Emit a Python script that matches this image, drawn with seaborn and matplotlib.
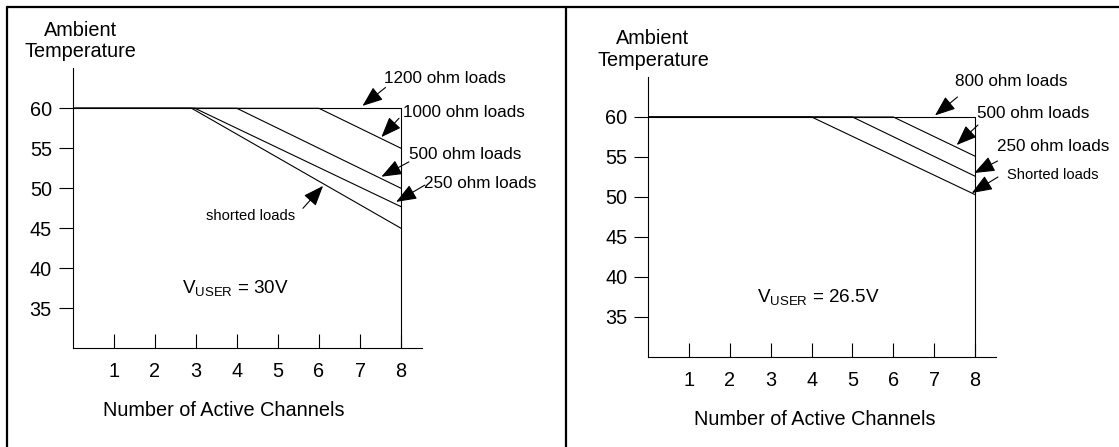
import matplotlib
matplotlib.use("Agg")
import matplotlib.pyplot as plt
from matplotlib.lines import Line2D
import seaborn as sns
import pandas as pd

# ---------------- data ----------------
channel_ticks = [1, 2, 3, 4, 5, 6, 7, 8]
temp_ticks = [35, 40, 45, 50, 55, 60]
max_channels = 8
max_temp = 60
temp_floor = 30

# Left panel: V_USER = 30V
left_loads = ["1200 ohm loads", "1000 ohm loads", "500 ohm loads", "250 ohm loads", "shorted loads"]
left_knee = [8, 6, 4, 2.98, 2.9]        # channels where derating starts
left_end = [60, 55, 50, 47.7, 45]        # temperature at 8 channels

# Right panel: V_USER = 26.5V
right_loads = ["800 ohm loads", "500 ohm loads", "250 ohm loads", "Shorted loads"]
right_knee = [8, 6, 5, 4]
right_end = [60, 55.1, 52.6, 50.3]

# label positions (text x, y) and arrows (tail, head)
left_label_pos = [(7.58, 63.75), (8.04, 59.45), (8.19, 54.25), (8.56, 50.6), (4.34, 46.5)]
left_arrow_tail = [(7.62, 62.6), (7.95, 58.75), (8.19, 53.3), (8.58, 50.4), (5.61, 47.5)]
left_arrow_head = [(7.06, 60.3), (7.52, 56.4), (7.52, 51.45), (7.88, 48.3), (6.1, 50.3)]

right_label_pos = [(7.52, 64.4), (8.04, 60.5), (8.53, 56.3), (8.79, 52.75)]
right_arrow_tail = [(7.57, 62.5), (8.07, 59.0), (8.55, 54.5), (8.56, 52.5)]
right_arrow_head = [(7.02, 60.2), (7.55, 56.5), (7.98, 53.0), (7.92, 50.5)]

# ---------------- style ----------------
sns.set_theme(style="white")
plt.rcParams["font.family"] = ["Liberation Sans", "DejaVu Sans"]
plt.rcParams["mathtext.fontset"] = "custom"
plt.rcParams["mathtext.rm"] = "Liberation Sans"
plt.rcParams["mathtext.it"] = "Liberation Sans"

W, H = 1119, 447
fig = plt.figure(figsize=(W / 100, H / 100), dpi=100)
fig.patch.set_facecolor("white")

TICK_FS = 14.3
LABEL_FS = 14.3
VTEXT_FS = 13.6
LOAD_FS = 12.3
SMALL_FS = 10.6
LW = 0.8


def make_df(loads, knees, ends):
    rows = []
    for name, k, e in zip(loads, knees, ends):
        rows.append({"load": name, "channels": 0, "temp": max_temp})
        rows.append({"load": name, "channels": k, "temp": max_temp})
        rows.append({"load": name, "channels": max_channels, "temp": e})
    return pd.DataFrame(rows)


def panel(rect, loads, knees, ends, label_pos, tails, heads, vtext, small_idx,
          amb_xy, nac_xy):
    ax = fig.add_axes(rect)
    df = make_df(loads, knees, ends)
    sns.lineplot(data=df, x="channels", y="temp", units="load", estimator=None,
                 sort=False, color="black", linewidth=LW, ax=ax, legend=False)
    # right boundary at max channels
    ax.plot([max_channels, max_channels], [temp_floor, max_temp], color="black", lw=LW)
    ax.set_xlim(0, 8.5)
    ax.set_ylim(temp_floor, 65)
    ax.set_xticks(channel_ticks)
    ax.set_yticks(temp_ticks)
    ax.tick_params(axis="x", direction="in", length=10, width=LW, pad=10,
                   labelsize=TICK_FS, colors="black", bottom=True)
    ax.tick_params(axis="y", direction="out", length=10, width=LW, pad=5,
                   labelsize=TICK_FS, colors="black", left=True)
    for s in ["top", "right"]:
        ax.spines[s].set_visible(False)
    for s in ["left", "bottom"]:
        ax.spines[s].set_linewidth(LW)
        ax.spines[s].set_color("black")
    ax.set_xlabel("")
    ax.set_ylabel("")
    ax.patch.set_alpha(0)

    for i, (name, (tx, ty), tail, head) in enumerate(zip(loads, label_pos, tails, heads)):
        fs = SMALL_FS if i == small_idx else LOAD_FS
        ha = "center" if (name == "shorted loads") else "left"
        ax.text(tx, ty, name, fontsize=fs, ha=ha, va="center", color="black", clip_on=False)
        ax.annotate("", xy=head, xytext=tail, annotation_clip=False,
                    arrowprops=dict(arrowstyle="-|>,head_length=0.9,head_width=0.35",
                                    color="black", lw=LW, shrinkA=0, shrinkB=0,
                                    mutation_scale=14))
    ax.text(2.66, 36.9, vtext, fontsize=VTEXT_FS, ha="left", va="baseline", color="black")

    fig.text(amb_xy[0] / W, 1 - amb_xy[1] / H, "Ambient\nTemperature", fontsize=LABEL_FS,
             ha="center", va="center", color="black", linespacing=1.15)
    fig.text(nac_xy[0] / W, 1 - nac_xy[1] / H, "Number of Active Channels",
             fontsize=LABEL_FS, ha="center", va="center", color="black")
    return ax


panel([72.6 / W, (H - 348.3) / H, 349.0 / W, 280.0 / H],
      left_loads, left_knee, left_end, left_label_pos, left_arrow_tail, left_arrow_head,
      r"V$_{\mathrm{USER}}$ = 30V", 4, (80.4, 40.9), (224, 410.7))

panel([648.2 / W, (H - 357.0) / H, 347.3 / W, 280.0 / H],
      right_loads, right_knee, right_end, right_label_pos, right_arrow_tail, right_arrow_head,
      r"V$_{\mathrm{USER}}$ = 26.5V", 3, (653, 49.5), (814.8, 419.3))

# frame lines
fig.add_artist(Line2D([6.7 / W, 6.7 / W], [0, 1 - 6.7 / H], transform=fig.transFigure,
                      color="black", lw=1.6))
fig.add_artist(Line2D([6.7 / W, 1], [1 - 6.7 / H, 1 - 6.7 / H], transform=fig.transFigure,
                      color="black", lw=1.6))
fig.add_artist(Line2D([565.7 / W, 565.7 / W], [0, 1 - 6.7 / H], transform=fig.transFigure,
                      color="black", lw=1.6))

fig.savefig("out.png", dpi=100, facecolor="white")
